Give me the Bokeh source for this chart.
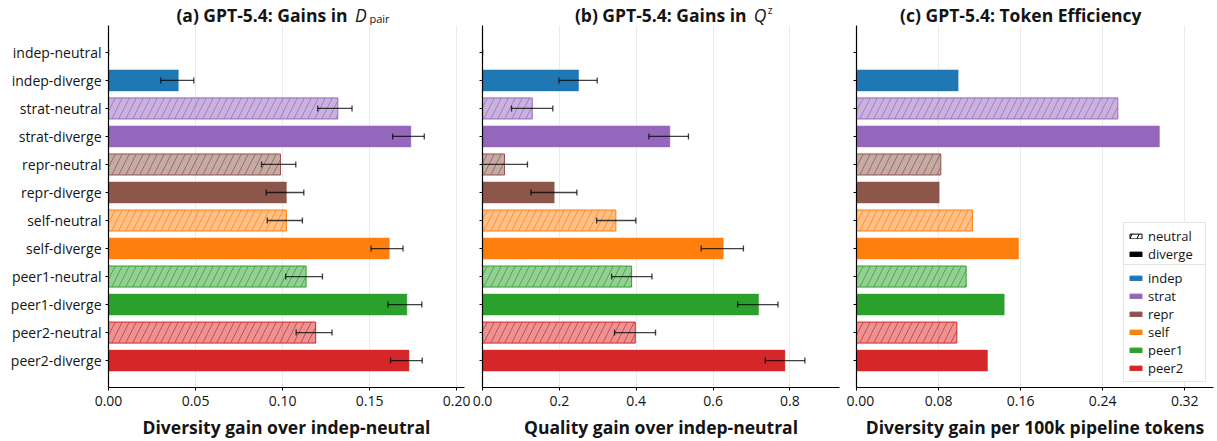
from bokeh.plotting import figure
from bokeh.layouts import row, column
from bokeh.models import (ColumnDataSource, FactorRange, Range1d, FixedTicker,
                          PrintfTickFormatter, CustomJSTickFormatter, Whisker, TeeHead,
                          Label, Legend, LegendItem)
from bokeh.embed import file_html
from bokeh.resources import INLINE

# ---------------- data ----------------
methods = ["indep", "strat", "repr", "self", "peer1", "peer2"]
modes = ["neutral", "diverge"]
method_colors = ["#1f77b4", "#9467bd", "#8c564b", "#ff7f0e", "#2ca02c", "#d62728"]
categories = [f"{m}-{d}" for m in methods for d in modes]

dpair_gain = [0.0, 0.0401, 0.1317, 0.1737, 0.0988, 0.1022, 0.1022, 0.1613, 0.1135, 0.1714, 0.1190, 0.1726]
dpair_lo = [0.0, 0.0300, 0.1202, 0.1632, 0.0879, 0.0906, 0.0912, 0.1508, 0.1018, 0.1605, 0.1078, 0.1620]
dpair_hi = [0.0, 0.0490, 0.1399, 0.1814, 0.1076, 0.1122, 0.1114, 0.1692, 0.1229, 0.1800, 0.1284, 0.1802]

qz_gain = [0.0, 0.250, 0.1294, 0.4877, 0.0573, 0.1866, 0.347, 0.6265, 0.388, 0.7184, 0.3975, 0.787]
qz_lo = [0.0, 0.199, 0.0755, 0.433, -0.0104, 0.126, 0.297, 0.569, 0.336, 0.664, 0.3436, 0.7358]
qz_hi = [0.0, 0.2985, 0.183, 0.536, 0.117, 0.2457, 0.399, 0.679, 0.441, 0.769, 0.4503, 0.839]

token_eff = [0.0, 0.0991, 0.2547, 0.2953, 0.0822, 0.0806, 0.113, 0.158, 0.1069, 0.144, 0.0978, 0.1277]

ticks_a = [0.0, 0.05, 0.10, 0.15, 0.20]
ticks_b = [0.0, 0.2, 0.4, 0.6, 0.8]
ticks_c = [0.0, 0.08, 0.16, 0.24, 0.32]

title_a = "(a) GPT-5.4: Gains in"
title_b = "(b) GPT-5.4: Gains in"
title_c = "(c) GPT-5.4: Token Efficiency"
xlabel_a = "Diversity gain over indep-neutral"
xlabel_b = "Quality gain over indep-neutral"
xlabel_c = "Diversity gain per 100k pipeline tokens"

# ---------------- style ----------------
FONT = "Open Sans"
STRIP_H = 25
H = 441 - STRIP_H
TXT = "#141414"
W_A, W_B, W_C = 470, 376, 371


def make_panel(vals, lo, hi, xmax, ticks, fmt, xlabel, width, bl, br, show_labels):
    p = figure(width=width, height=H, title=None,
               y_range=FactorRange(factors=categories[::-1], range_padding=0.46,
                                   range_padding_units="absolute"),
               x_range=Range1d(0, xmax), output_backend="svg", toolbar_location=None,
               min_border_left=bl, min_border_right=br, min_border_top=0, min_border_bottom=54)
    p.outline_line_color = None
    for mode in modes:
        idx = [i for i, c in enumerate(categories) if c.endswith(mode)]
        src = ColumnDataSource(dict(
            cat=[categories[i] for i in idx],
            val=[vals[i] for i in idx],
            color=[method_colors[i // 2] for i in idx]))
        if mode == "neutral":
            p.hbar(y="cat", left=0, right="val", height=0.75, source=src,
                   fill_color="color", fill_alpha=0.5, line_color="color", line_width=1,
                   hatch_pattern="/", hatch_color="color", hatch_alpha=0.8,
                   hatch_scale=14, hatch_weight=0.9)
        else:
            p.hbar(y="cat", left=0, right="val", height=0.75, source=src,
                   fill_color="color", fill_alpha=1.0, line_color="color",
                   line_alpha=0.45, line_width=1)
    if lo is not None:
        esrc = ColumnDataSource(dict(cat=categories, lo=lo, hi=hi))
        w = Whisker(base="cat", lower="lo", upper="hi", dimension="width", source=esrc,
                    line_color="black", line_alpha=0.75, line_width=1.3, level="annotation",
                    lower_head=TeeHead(size=6, line_color="black", line_alpha=0.75, line_width=1.3),
                    upper_head=TeeHead(size=6, line_color="black", line_alpha=0.75, line_width=1.3))
        p.add_layout(w)

    p.xaxis.ticker = FixedTicker(ticks=ticks)
    p.xaxis.formatter = PrintfTickFormatter(format=fmt)
    p.xaxis.axis_label = xlabel
    p.xaxis.axis_label_text_font = FONT
    p.xaxis.axis_label_text_font_size = "17.5px"
    p.xaxis.axis_label_text_font_style = "bold"
    p.xaxis.axis_label_text_color = TXT
    p.xaxis.axis_label_standoff = 6
    p.xaxis.major_label_standoff = 5
    p.axis.major_tick_out = 3
    p.axis.major_tick_in = 0
    p.axis.minor_tick_out = 0
    p.axis.minor_tick_in = 0
    p.axis.major_label_text_font = FONT
    p.axis.major_label_text_font_size = "14px"
    p.axis.major_label_text_color = TXT
    p.axis.axis_line_width = 1.2
    p.axis.axis_line_color = "black"
    p.axis.major_tick_line_color = "black"
    p.yaxis.major_label_standoff = 4
    if not show_labels:
        p.yaxis.formatter = CustomJSTickFormatter(code="return ''")
        p.yaxis.major_label_standoff = 0
    p.xgrid.grid_line_color = "#ebebeb"
    p.xgrid.grid_line_width = 1
    p.ygrid.grid_line_color = None
    return p


def make_strip(width):
    s = figure(width=width, height=STRIP_H, title=None, x_range=Range1d(0, 1),
               y_range=Range1d(0, 1), x_axis_location=None, y_axis_location=None,
               output_backend="svg", toolbar_location=None, min_border=0)
    s.outline_line_color = None
    s.xgrid.visible = False
    s.ygrid.visible = False
    return s


def strip_text(s, text, x, y, size, style, align="left"):
    s.add_layout(Label(x=x, y=y, x_units="screen", y_units="screen", text=text,
                       text_align=align, text_baseline="alphabetic", text_font=FONT,
                       text_font_size=size, text_font_style=style, text_color=TXT))


p1 = make_panel(dpair_gain, dpair_lo, dpair_hi, 0.2045, ticks_a, "%.2f", xlabel_a, W_A, 108, 6, True)
p2 = make_panel(qz_gain, qz_lo, qz_hi, 0.929, ticks_b, "%.1f", xlabel_b, W_B, 12, 7, False)
p3 = make_panel(token_eff, None, None, 0.348, ticks_c, "%.2f", xlabel_c, W_C, 10, 4, False)

# title strips (positions measured from each strip's bottom-left corner)
s1 = make_strip(W_A)
strip_text(s1, title_a, 347, 11, "17.5px", "bold", "right")
strip_text(s1, "D", 354.5, 11, "17.5px", "italic")
strip_text(s1, "pair", 369, 7, "11px", "normal")
s2 = make_strip(W_B)
strip_text(s2, title_b, 276, 11, "17.5px", "bold", "right")
strip_text(s2, "Q", 283.3, 11, "17.5px", "italic")
strip_text(s2, "z", 297.3, 16, "10px", "normal")
s3 = make_strip(W_C)
strip_text(s3, title_c, 174.3, 11, "17.5px", "bold", "center")

# legends in panel c (hidden key renderers carry the legend swatches)
r_neu = p3.hbar(y=[categories[0]], left=0, right=[token_eff[0]], height=0.75, fill_color="white",
                line_color="black", line_width=1, hatch_pattern="/", hatch_color="black",
                hatch_scale=14, visible=False)
r_div = p3.hbar(y=[categories[0]], left=0, right=[token_eff[0]], height=0.75, fill_color="black",
                line_color="black", visible=False)
mode_items = [LegendItem(label="neutral", renderers=[r_neu]),
              LegendItem(label="diverge", renderers=[r_div])]
method_items = []
for m, c in zip(methods, method_colors):
    r = p3.hbar(y=[categories[0]], left=0, right=[token_eff[0]], height=0.75, fill_color=c,
                line_color=c, visible=False)
    method_items.append(LegendItem(label=m, renderers=[r]))

leg_mode = Legend(items=mode_items, location=(267, 119))
leg_method = Legend(items=method_items, location=(267, 5))
for lg in (leg_mode, leg_method):
    lg.label_text_font = FONT
    lg.label_text_font_size = "13px"
    lg.label_text_color = TXT
    lg.glyph_width = 15
    lg.glyph_height = 6
    lg.label_standoff = 5
    lg.label_height = 16
    lg.label_width = 53
    lg.spacing = 0
    lg.padding = 4
    lg.margin = 0
    lg.border_line_color = "#cccccc"
    lg.border_line_width = 1
    lg.background_fill_color = "white"
    lg.background_fill_alpha = 1
    p3.add_layout(lg, "center")

layout = column(row(s1, s2, s3), row(p1, p2, p3))
open("out.html", "w").write(file_html(layout, INLINE))
